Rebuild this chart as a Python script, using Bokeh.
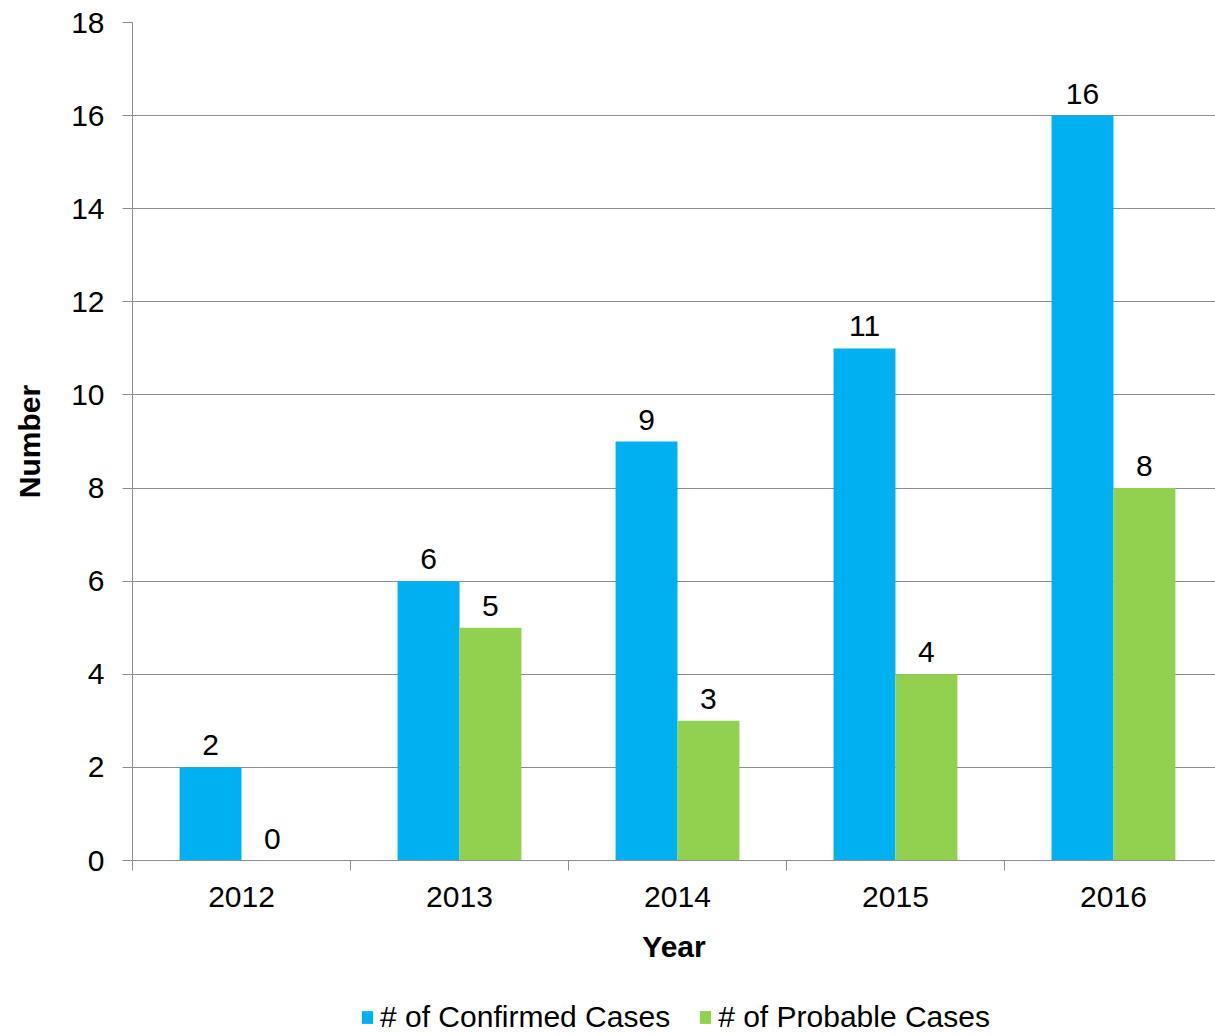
from bokeh.plotting import figure
from bokeh.layouts import column
from bokeh.models import (Range1d, LinearAxis, FixedTicker, ColumnDataSource,
                          Legend, LegendItem, Grid)
from bokeh.core.properties import value
from bokeh.embed import file_html
from bokeh.resources import INLINE

years = ["2012", "2013", "2014", "2015", "2016"]
confirmed = [2, 6, 9, 11, 16]
probable = [0, 5, 3, 4, 8]
series_names = ["# of Confirmed Cases", "# of Probable Cases"]
y_ticks = [0, 2, 4, 6, 8, 10, 12, 14, 16, 18]

BLUE = "#00B0F0"
GREEN = "#92D050"
GRID = "#8c8c8c"
FONT = "Liberation Sans"
FS = "30px"

centers = [i + 0.5 for i in range(len(years))]
bw = 0.284
src = ColumnDataSource(dict(
    xc=[c - bw / 2 for c in centers],
    xp=[c + bw / 2 for c in centers],
    conf=confirmed,
    prob=probable,
    conf_lbl=[str(v) for v in confirmed],
    prob_lbl=[str(v) for v in probable],
))

p = figure(frame_width=1083, frame_height=838, output_backend="svg",
           toolbar_location=None,
           x_range=Range1d(0, 4.968), y_range=Range1d(0, 18),
           min_border_left=132, min_border_right=0, min_border_top=22,
           min_border_bottom=0, x_axis_type=None, y_axis_type=None)
p.outline_line_color = None
p.background_fill_color = "white"
p.border_fill_color = "white"

# y axis
yax = LinearAxis(ticker=FixedTicker(ticks=y_ticks))
yax.axis_line_color = GRID
yax.major_tick_line_color = GRID
yax.major_tick_out = 10
yax.major_tick_in = 0
yax.minor_tick_line_color = None
yax.major_label_text_font = FONT
yax.major_label_text_font_size = FS
yax.major_label_text_color = "black"
yax.major_label_standoff = 18
yax.axis_label = "Number"
yax.axis_label_text_font = FONT
yax.axis_label_text_font_size = FS
yax.axis_label_text_font_style = "bold"
yax.axis_label_text_color = "black"
yax.axis_label_standoff = 22
p.add_layout(yax, "left")

# x axis: labels at category centres, ticks at boundaries (minor ticks)
xax = LinearAxis(ticker=FixedTicker(ticks=centers,
                                    minor_ticks=list(range(len(years) + 1))))
xax.major_label_overrides = {c: y for c, y in zip(centers, years)}
xax.axis_line_color = GRID
xax.major_tick_line_color = None
xax.major_tick_out = 0
xax.major_tick_in = 0
xax.minor_tick_line_color = GRID
xax.minor_tick_out = 10
xax.minor_tick_in = 0
xax.major_label_text_font = FONT
xax.major_label_text_font_size = FS
xax.major_label_text_color = "black"
xax.major_label_standoff = 16
xax.axis_label = "Year"
xax.axis_label_text_font = FONT
xax.axis_label_text_font_size = FS
xax.axis_label_text_font_style = "bold"
xax.axis_label_text_color = "black"
xax.axis_label_standoff = 20
p.add_layout(xax, "below")

p.add_layout(Grid(dimension=1, ticker=yax.ticker, grid_line_color=GRID,
                  grid_line_width=1))

p.vbar(x="xc", top="conf", width=bw, bottom=0, source=src,
       fill_color=BLUE, line_color=None)
p.vbar(x="xp", top="prob", width=bw, bottom=0, source=src,
       fill_color=GREEN, line_color=None)

p.text(x="xc", y="conf", text="conf_lbl", source=src, text_align="center",
       text_baseline="bottom", y_offset=-12, text_font=value(FONT),
       text_font_size=value(FS), text_color="black")
p.text(x="xp", y="prob", text="prob_lbl", source=src, text_align="center",
       text_baseline="bottom", y_offset=-12, text_font=value(FONT),
       text_font_size=value(FS), text_color="black")

# legend strip (separate small figure below the chart; its ranges show no bars)
lg = figure(width=1215, height=71, output_backend="svg", toolbar_location=None,
            x_range=Range1d(100, 101), y_range=Range1d(100, 101),
            min_border=0, x_axis_type=None, y_axis_type=None)
lg.outline_line_color = None
lg.xgrid.visible = False
lg.ygrid.visible = False
k1 = lg.vbar(x="xc", top="conf", width=bw, bottom=0, source=src,
             fill_color=BLUE, line_color=None)
k2 = lg.vbar(x="xp", top="prob", width=bw, bottom=0, source=src,
             fill_color=GREEN, line_color=None)

legend = Legend(items=[LegendItem(label=series_names[0], renderers=[k1]),
                       LegendItem(label=series_names[1], renderers=[k2])],
                orientation="horizontal", location=(228, 2))
legend.label_text_font = FONT
legend.label_text_font_size = FS
legend.label_text_color = "black"
legend.glyph_width = 14
legend.glyph_height = 16
legend.label_standoff = 6
legend.spacing = 28
legend.padding = 0
legend.margin = 0
legend.border_line_color = None
legend.background_fill_alpha = 0
lg.add_layout(legend, "center")

layout = column(p, lg, spacing=0)
open("out.html", "w").write(file_html(layout, INLINE))
